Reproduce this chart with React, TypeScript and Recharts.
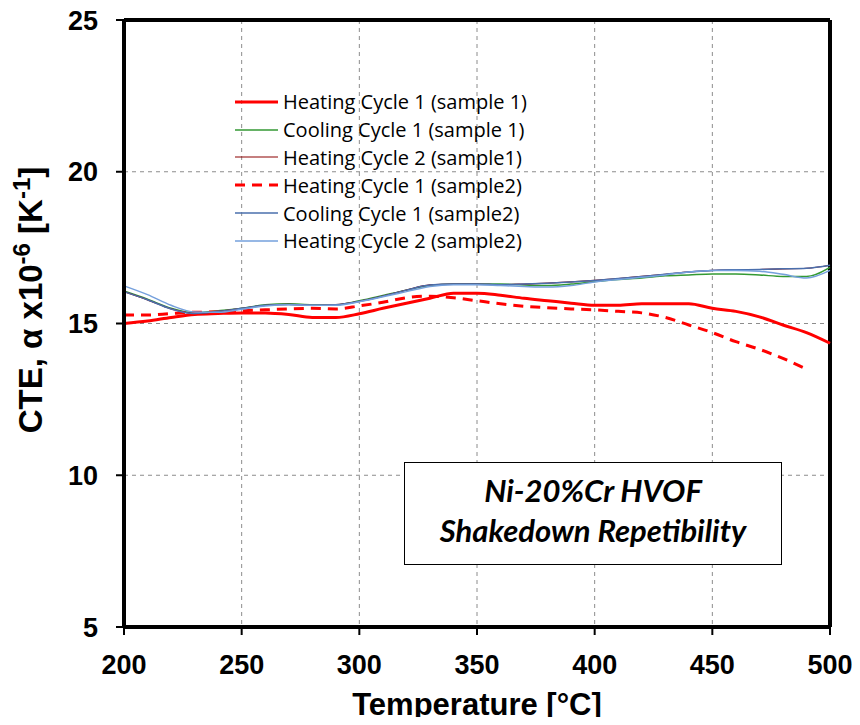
import { CartesianGrid, Legend, Line, LineChart, ReferenceLine, XAxis, YAxis } from 'recharts'

// temperature steps, °C
const temps = [200, 210, 220, 230, 240, 250, 260, 270, 280, 290, 300, 310, 320, 330, 340, 350, 360, 370, 380, 390, 400, 410, 420, 430, 440, 450, 460, 470, 480, 490, 500]

// CTE values, x10^-6 K^-1
const heat1Sample1 = [15.0, 15.08, 15.2, 15.3, 15.33, 15.35, 15.35, 15.3, 15.2, 15.2, 15.32, 15.5, 15.67, 15.83, 16.0, 16.0, 15.93, 15.83, 15.75, 15.67, 15.6, 15.6, 15.65, 15.65, 15.65, 15.5, 15.4, 15.22, 14.95, 14.7, 14.35]
const cool1Sample1 = [16.07, 15.8, 15.5, 15.35, 15.42, 15.5, 15.62, 15.65, 15.62, 15.62, 15.75, 15.92, 16.1, 16.25, 16.3, 16.3, 16.3, 16.27, 16.25, 16.3, 16.38, 16.45, 16.5, 16.57, 16.6, 16.63, 16.63, 16.6, 16.55, 16.55, 16.85]
const heat2Sample1 = [16.05, 15.78, 15.48, 15.33, 15.4, 15.5, 15.6, 15.63, 15.6, 15.62, 15.73, 15.9, 16.1, 16.27, 16.3, 16.3, 16.28, 16.3, 16.33, 16.37, 16.42, 16.48, 16.55, 16.62, 16.7, 16.75, 16.77, 16.78, 16.8, 16.82, 16.92]
const heat1Sample2 = [15.28, 15.28, 15.33, 15.37, 15.38, 15.42, 15.45, 15.48, 15.5, 15.48, 15.58, 15.7, 15.85, 15.9, 15.85, 15.75, 15.65, 15.57, 15.52, 15.48, 15.45, 15.4, 15.35, 15.2, 14.95, 14.7, 14.4, 14.15, 13.85, 13.5, null]
const cool1Sample2 = [16.05, 15.78, 15.48, 15.33, 15.4, 15.5, 15.6, 15.63, 15.6, 15.62, 15.73, 15.9, 16.1, 16.27, 16.3, 16.3, 16.28, 16.3, 16.33, 16.37, 16.42, 16.48, 16.55, 16.62, 16.7, 16.75, 16.77, 16.78, 16.8, 16.82, 16.92]
const heat2Sample2 = [16.24, 15.95, 15.6, 15.38, 15.37, 15.47, 15.58, 15.62, 15.6, 15.6, 15.72, 15.88, 16.05, 16.22, 16.28, 16.28, 16.25, 16.22, 16.2, 16.25, 16.37, 16.45, 16.52, 16.6, 16.7, 16.75, 16.75, 16.72, 16.62, 16.5, 16.75]

const xTicks = [200, 250, 300, 350, 400, 450, 500]
const yTicks = [5, 10, 15, 20, 25]

const data = temps.map((t, i) => ({
  t,
  h1s1: heat1Sample1[i],
  c1s1: cool1Sample1[i],
  h2s1: heat2Sample1[i],
  h1s2: heat1Sample2[i],
  c1s2: cool1Sample2[i],
  h2s2: heat2Sample2[i],
}))

const series = [
  { key: 'h1s1', name: 'Heating Cycle 1 (sample 1)', color: '#ff0000', width: 3 },
  { key: 'c1s1', name: 'Cooling Cycle 1 (sample 1)', color: '#339933', width: 1.5 },
  { key: 'h2s1', name: 'Heating Cycle 2 (sample1)', color: '#8b0000', width: 1.2 },
  { key: 'h1s2', name: 'Heating Cycle 1 (sample2)', color: '#ff0000', width: 3, dash: '10 7' },
  { key: 'c1s2', name: 'Cooling Cycle 1 (sample2)', color: '#4a6fad', width: 1.5 },
  { key: 'h2s2', name: 'Heating Cycle 2 (sample2)', color: '#75a0dc', width: 1.5 },
]

const arial = 'Liberation Sans, Arial, sans-serif'
const tickFont = { fontFamily: arial, fontSize: 27, fontWeight: 700, fill: '#000' }

function LegendList() {
  return (
    <div style={{ fontFamily: '"Open Sans", sans-serif', fontSize: 20, color: '#000' }}>
      {series.map((s) => (
        <div key={s.key} style={{ display: 'flex', alignItems: 'center', height: 27.8 }}>
          <svg width={48} height={10}>
            <line x1={0} y1={5} x2={43} y2={5} stroke={s.color} strokeWidth={s.width} strokeDasharray={s.dash} />
          </svg>
          <span>{s.name}</span>
        </div>
      ))}
    </div>
  )
}

function YTitle() {
  return (
    <text
      x={42}
      y={300}
      transform="rotate(-90 42 300)"
      textAnchor="middle"
      style={{ fontFamily: arial, fontSize: 33, fontWeight: 700 }}
    >
      CTE, α x10<tspan dy={-12} fontSize={24}>-6</tspan>
      <tspan dy={12}> [K</tspan>
      <tspan dy={-12} fontSize={24}>-1</tspan>
      <tspan dy={12}>]</tspan>
    </text>
  )
}

function XTitle() {
  return (
    <text x={477} y={715} textAnchor="middle" style={{ fontFamily: arial, fontSize: 31, fontWeight: 700 }}>
      Temperature [°C]
    </text>
  )
}

function CteChart() {
  // pulled over the body margin so the chart fills the whole window
  return (
    <div style={{ position: 'relative', width: 860, height: 725, margin: -8 }}>
      <LineChart
        width={860}
        height={725}
        data={data}
        margin={{ top: 20, right: 30, left: 64, bottom: 58 }}
      >
        <CartesianGrid stroke="#8c8c8c" strokeDasharray="4 4" />
        <XAxis
          dataKey="t"
          type="number"
          domain={[200, 500]}
          ticks={xTicks}
          height={40}
          tickSize={8}
          tickMargin={20}
          tick={tickFont}
          axisLine={{ stroke: '#000', strokeWidth: 4 }}
          tickLine={{ stroke: '#000', strokeWidth: 2 }}
          label={{ value: 'Temperature [°C]', content: () => <XTitle /> }}
        />
        <YAxis
          type="number"
          domain={[5, 25]}
          ticks={yTicks}
          width={60}
          tickSize={8}
          tickMargin={18}
          tick={tickFont}
          axisLine={{ stroke: '#000', strokeWidth: 4 }}
          tickLine={{ stroke: '#000', strokeWidth: 2 }}
          label={{ value: 'CTE', content: () => <YTitle /> }}
        />
        <ReferenceLine y={25} stroke="#000" strokeWidth={4} />
        <ReferenceLine x={500} stroke="#000" strokeWidth={4} />
        {series.map((s) => (
          <Line
            key={s.key}
            type="monotone"
            dataKey={s.key}
            name={s.name}
            stroke={s.color}
            strokeWidth={s.width}
            strokeDasharray={s.dash}
            dot={false}
            activeDot={false}
            isAnimationActive={false}
          />
        ))}
        <Legend
          layout="vertical"
          align="center"
          verticalAlign="middle"
          wrapperStyle={{ left: 235, top: 88, width: 'auto' }}
          content={() => <LegendList />}
        />
      </LineChart>
      <div
        style={{
          position: 'absolute',
          left: 404,
          top: 462,
          width: 378,
          height: 103,
          border: '1.5px solid #000',
          background: '#fff',
          fontFamily: 'Lato, sans-serif',
          fontWeight: 700,
          fontStyle: 'italic',
          fontSize: 31,
          textAlign: 'center',
          lineHeight: '40px',
          paddingTop: 7,
          boxSizing: 'border-box',
        }}
      >
        Ni-20%Cr HVOF
        <br />
        Shakedown Repetibility
      </div>
    </div>
  )
}

export default function App() {
  return <CteChart />
}
